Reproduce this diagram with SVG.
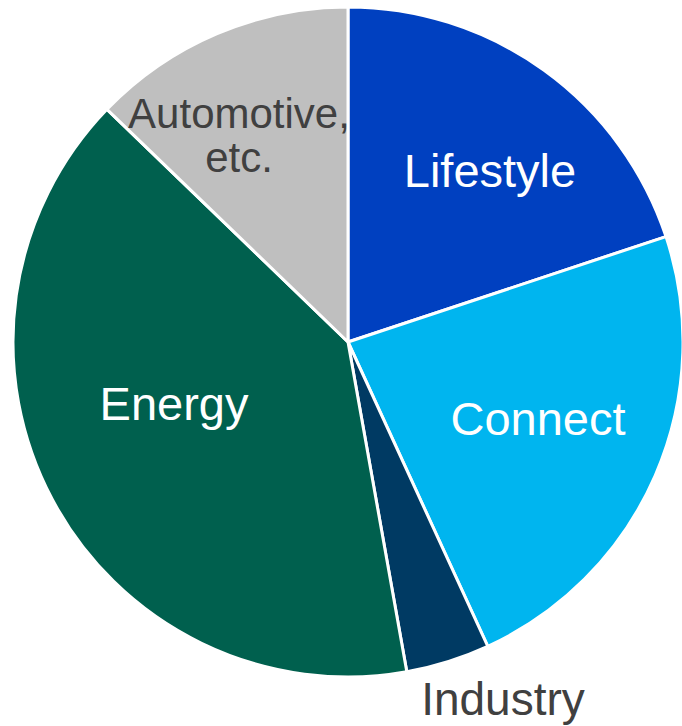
<svg xmlns="http://www.w3.org/2000/svg" width="682" height="726" viewBox="0 0 682 726">
<style>
.slice{stroke:#FFFFFF;stroke-width:3;stroke-linejoin:round}
.lbl{font-family:"Liberation Sans",Arial,sans-serif;text-anchor:middle}
.w{fill:#FFFFFF;font-size:47px}
.d{fill:#404040}
</style>
<rect width="682" height="726" fill="#FFFFFF"/>
<g id="connectors"></g>
<g id="lifestyle">
<path class="slice" fill="#0040C0" d="M348,342 L348,7 A335,335 0 0 1 666,236.6 Z"/>
<text class="lbl w" x="490" y="187">Lifestyle</text>
</g>
<g id="connect">
<path class="slice" fill="#00B5EF" d="M348,342 L666,236.6 A335,335 0 0 1 487.8,646.4 Z"/>
<text class="lbl w" x="538" y="435">Connect</text>
</g>
<g id="industry">
<path class="slice" fill="#003A63" d="M348,342 L487.8,646.4 A335,335 0 0 1 406.8,671.8 Z"/>
<text class="lbl d" x="503" y="715" font-size="46">Industry</text>
</g>
<g id="energy">
<path class="slice" fill="#00604E" d="M348,342 L406.8,671.8 A335,335 0 0 1 107,109.3 Z"/>
<text class="lbl w" x="174" y="420">Energy</text>
</g>
<g id="automotive">
<path class="slice" fill="#BFBFBF" d="M348,342 L107,109.3 A335,335 0 0 1 348,7 Z"/>
<text class="lbl d" x="239" y="128" font-size="42">Automotive,</text>
<text class="lbl d" x="239" y="172" font-size="42">etc.</text>
</g>
</svg>
